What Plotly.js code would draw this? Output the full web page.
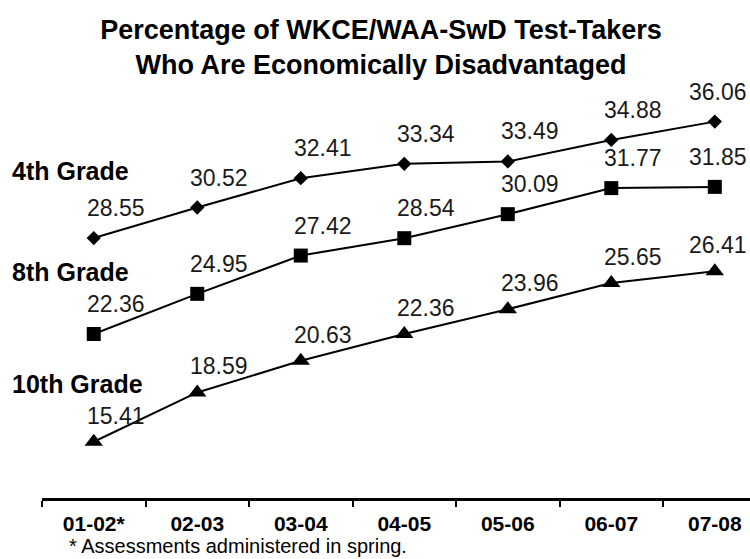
<!DOCTYPE html>
<html>
<head>
<meta charset="utf-8">
<script src="https://cdn.plot.ly/plotly-3.0.1.min.js"></script>
<style>html,body{margin:0;padding:0;background:#fff;}#chart{width:750px;height:559px;}</style>
</head>
<body>
<div id="chart"></div>
<script>
// ---- data ----
const years = ["01-02*", "02-03", "03-04", "04-05", "05-06", "06-07", "07-08"];
const grade4 = [28.55, 30.52, 32.41, 33.34, 33.49, 34.88, 36.06];
const grade8 = [22.36, 24.95, 27.42, 28.54, 30.09, 31.77, 31.85];
const grade10 = [15.41, 18.59, 20.63, 22.36, 23.96, 25.65, 26.41];
const seriesNames = ["4th Grade", "8th Grade", "10th Grade"];
const titleText = "Percentage of WKCE/WAA-SwD Test-Takers<br>Who Are Economically Disadvantaged";
const footnote = "* Assessments administered in spring.";

// ---- styles ----
const seriesData = [grade4, grade8, grade10];
const symbols = ["diamond", "square", "triangle-up"];
const symSizes = [11, 14, 16];
const nameY = [0.801, 0.554, 0.279];
const FONT = "Liberation Sans, Arial, Helvetica, sans-serif";

const traces = seriesData.map((vals, i) => ({
  type: "scatter",
  mode: "lines+markers",
  x: years,
  y: vals,
  name: seriesNames[i],
  line: {color: "#000", width: 2},
  marker: {symbol: symbols[i], size: symSizes[i], color: "#000"},
  cliponaxis: false,
  hoverinfo: "x+y"
}));

const annotations = [];
seriesData.forEach((vals, i) => {
  vals.forEach((v, j) => {
    annotations.push({
      x: years[j], y: v, xref: "x", yref: "y",
      text: v.toFixed(2), showarrow: false,
      xanchor: "center", yanchor: "bottom",
      xshift: j === vals.length - 1 ? 3 : 22, yshift: i === 2 ? 11 : 15,
      font: {family: FONT, size: 23, color: "#1a1a1a"}
    });
  });
  annotations.push({
    x: -0.045, y: nameY[i], xref: "paper", yref: "paper",
    text: "<b>" + seriesNames[i] + "</b>", showarrow: false,
    xanchor: "left", yanchor: "middle",
    font: {family: FONT, size: 25, color: "#000"}
  });
});
annotations.push({
  x: 0.036, y: -0.118, xref: "paper", yref: "paper",
  text: footnote, showarrow: false, xanchor: "left", yanchor: "middle",
  font: {family: FONT, size: 20, color: "#000"}
});

const layout = {
  width: 750, height: 559,
  margin: {l: 42, r: 0, t: 90, b: 61, pad: 0},
  paper_bgcolor: "#fff", plot_bgcolor: "#fff",
  showlegend: false,
  title: {
    text: "<b>" + titleText + "</b>",
    x: 0.508, xanchor: "center", xref: "container",
    y: 0.93, yanchor: "top", yref: "container",
    font: {family: FONT, size: 27, color: "#000"}
  },
  xaxis: {
    type: "category",
    range: [-0.5, 6.34],
    tickson: "boundaries",
    ticks: "outside", ticklen: 6, tickwidth: 2, tickcolor: "#000",
    showline: true, linecolor: "#000", linewidth: 3,
    showgrid: false, zeroline: false,
    ticklabelstandoff: 5,
    tickfont: {family: FONT, size: 21, color: "#000", weight: "bold"}
  },
  yaxis: {
    range: [11.78, 38.1],
    visible: false, showgrid: false, zeroline: false
  },
  annotations: annotations
};

Plotly.newPlot("chart", traces, layout, {displayModeBar: false, staticPlot: true});
</script>
</body>
</html>
